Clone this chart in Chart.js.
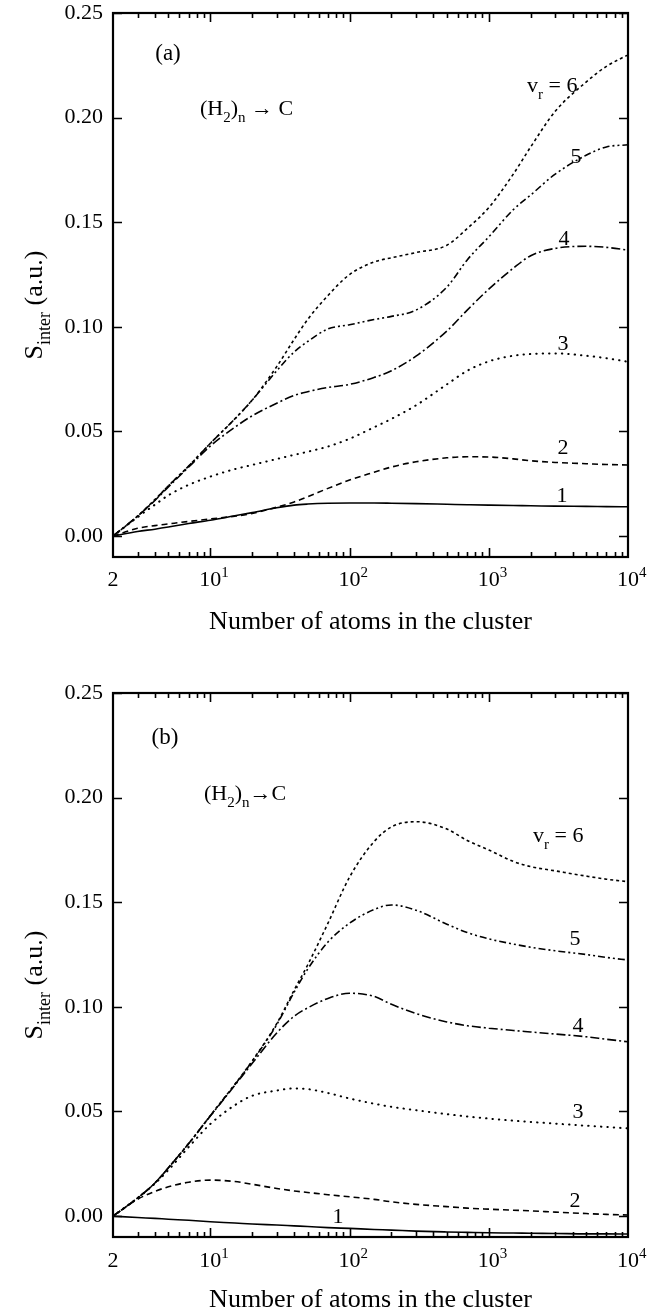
<!DOCTYPE html>
<html>
<head>
<meta charset="utf-8">
<title>S_inter vs cluster size</title>
<script src="https://cdn.jsdelivr.net/npm/chart.js@4.4.1/dist/chart.umd.min.js"></script>
<style>
  html, body { margin: 0; padding: 0; background: #fff; }
  #wrap { position: relative; width: 662px; height: 1313px; overflow: hidden; }
  canvas { position: absolute; left: 0; }
</style>
</head>
<body>
<div id="wrap">
  <canvas id="panelA" width="662" height="650" style="top:0px"></canvas>
  <canvas id="panelB" width="662" height="663" style="top:650px"></canvas>
</div>
<script>
// Number of atoms in the cluster (x values shared by every curve)
const clusterSize = [2, 3, 4, 5, 7, 10, 15, 20, 30, 40, 50, 70, 100, 150, 200, 300, 500, 700, 1000, 1500, 2000, 3000, 5000, 7000, 10000];
const vibLevels = ['1', '2', '3', '4', '5', '6'];
const yTickValues = [0, 0.05, 0.10, 0.15, 0.20, 0.25];
const xLabelValues = [2, 10, 100, 1000, 10000];
const xLabelExponents = ['', '1', '2', '3', '4'];

// Panel (a): S_inter for v_r = 1..6
const aVr1 = [0, 0.0022, 0.0033, 0.0043, 0.0060, 0.0076, 0.0097, 0.0112, 0.0135, 0.0148, 0.0153, 0.0157, 0.0158, 0.0158, 0.0157, 0.0155, 0.0152, 0.0150, 0.0148, 0.0146, 0.0145, 0.0143, 0.0142, 0.0141, 0.0140];
const aVr2 = [0, 0.0037, 0.0050, 0.0058, 0.0070, 0.0082, 0.0095, 0.0108, 0.0138, 0.0163, 0.0188, 0.0228, 0.0268, 0.0305, 0.0330, 0.0355, 0.0374, 0.0379, 0.0378, 0.0369, 0.0360, 0.0352, 0.0346, 0.0342, 0.0340];
const aVr3 = [0, 0.0090, 0.0150, 0.0195, 0.0245, 0.0284, 0.0320, 0.0340, 0.0368, 0.0388, 0.0403, 0.0428, 0.0465, 0.0520, 0.0560, 0.0625, 0.0725, 0.0790, 0.0835, 0.0862, 0.0870, 0.0873, 0.0862, 0.0850, 0.0833];
const aVr4 = [0, 0.0095, 0.0170, 0.0235, 0.0330, 0.0430, 0.0520, 0.0575, 0.0635, 0.0672, 0.0690, 0.0710, 0.0725, 0.0758, 0.0790, 0.0860, 0.0980, 0.1080, 0.1180, 0.1280, 0.1340, 0.1375, 0.1385, 0.1380, 0.1367];
const aVr5 = [0, 0.0095, 0.0172, 0.0240, 0.0335, 0.0443, 0.0560, 0.0650, 0.0790, 0.0880, 0.0930, 0.0990, 0.1010, 0.1035, 0.1050, 0.1080, 0.1190, 0.1320, 0.1430, 0.1560, 0.1630, 0.1730, 0.1820, 0.1860, 0.1870];
const aVr6 = [0, 0.0095, 0.0175, 0.0240, 0.0335, 0.0443, 0.0560, 0.0650, 0.0810, 0.0940, 0.1035, 0.1150, 0.1250, 0.1310, 0.1330, 0.1355, 0.1390, 0.1470, 0.1570, 0.1730, 0.1860, 0.2030, 0.2170, 0.2245, 0.2300];

// Panel (b): S_inter for v_r = 1..6
const bVr1 = [0, -0.0007, -0.0011, -0.0015, -0.0020, -0.0027, -0.0033, -0.0038, -0.0043, -0.0047, -0.0050, -0.0055, -0.0059, -0.0064, -0.0067, -0.0072, -0.0076, -0.0078, -0.0080, -0.0081, -0.0082, -0.0083, -0.0085, -0.0085, -0.0086];
const bVr2 = [0, 0.0080, 0.0118, 0.0140, 0.0162, 0.0172, 0.0165, 0.0152, 0.0132, 0.0120, 0.0113, 0.0102, 0.0092, 0.0080, 0.0068, 0.0056, 0.0045, 0.0038, 0.0033, 0.0028, 0.0025, 0.0019, 0.0012, 0.0008, 0.0005];
const bVr3 = [0, 0.0086, 0.0155, 0.0220, 0.0330, 0.0440, 0.0530, 0.0575, 0.0600, 0.0610, 0.0607, 0.0588, 0.0562, 0.0537, 0.0522, 0.0506, 0.0487, 0.0476, 0.0466, 0.0456, 0.0450, 0.0442, 0.0432, 0.0426, 0.0419];
const bVr4 = [0, 0.0086, 0.0158, 0.0231, 0.0347, 0.0478, 0.0625, 0.0730, 0.0875, 0.0955, 0.0995, 0.1040, 0.1065, 0.1050, 0.1012, 0.0968, 0.0928, 0.0910, 0.0898, 0.0887, 0.0880, 0.0870, 0.0857, 0.0845, 0.0833];
const bVr5 = [0, 0.0086, 0.0158, 0.0231, 0.0347, 0.0480, 0.0628, 0.0740, 0.0915, 0.1070, 0.1180, 0.1310, 0.1400, 0.1465, 0.1487, 0.1462, 0.1395, 0.1355, 0.1325, 0.1300, 0.1285, 0.1268, 0.1250, 0.1236, 0.1224];
const bVr6 = [0, 0.0086, 0.0158, 0.0231, 0.0347, 0.0480, 0.0630, 0.0742, 0.0920, 0.1080, 0.1200, 0.1400, 0.1620, 0.1790, 0.1860, 0.1885, 0.1850, 0.1795, 0.1750, 0.1695, 0.1670, 0.1650, 0.1625, 0.1610, 0.1598];

const SERIF = '"Liberation Serif", "DejaVu Serif", serif';
// solid, dashed, dotted, dash-dot, dash-dot-dot, short dash
const dashPatterns = [[], [6, 4], [0.4, 6], [9, 3, 2, 3], [7, 3, 2, 3, 2, 3], [3, 3]];
const lineWidths = [1.6, 1.6, 2.0, 1.6, 1.6, 1.6];

function buildDatasets(series) {
  return series.map((vals, i) => ({
    label: 'v_r = ' + vibLevels[i],
    data: clusterSize.map((n, k) => ({ x: n, y: vals[k] })),
    borderColor: '#000',
    borderWidth: lineWidths[i],
    borderDash: dashPatterns[i],
    borderCapStyle: i === 2 ? 'round' : 'butt',
    pointRadius: 0,
    pointHoverRadius: 0,
    fill: false,
    cubicInterpolationMode: 'monotone'
  }));
}

// Draws text made of normal / subscript / superscript pieces
function drawRich(ctx, parts, x, y, size, align) {
  const fontOf = k => (k === 0 ? size : Math.round(size * 0.68)) + 'px ' + SERIF;
  const widths = parts.map(([t, k]) => { ctx.font = fontOf(k); return ctx.measureText(t).width; });
  const total = widths.reduce((a, b) => a + b, 0);
  let cx = align === 'center' ? x - total / 2 : x;
  ctx.textAlign = 'left';
  ctx.textBaseline = 'alphabetic';
  parts.forEach(([t, k], i) => {
    ctx.font = fontOf(k);
    const dy = k < 0 ? size * 0.3 : (k > 0 ? -size * 0.4 : 0);
    ctx.fillText(t, cx, y + dy);
    cx += widths[i];
  });
}

// Frame with inward ticks on all four sides, x labels, axis titles and curve notes
const framePlugin = {
  id: 'frame',
  afterDraw(chart, args, opts) {
    const { ctx, chartArea: ca } = chart;
    const xs = chart.scales.x, ys = chart.scales.y;
    ctx.save();
    ctx.strokeStyle = '#000';
    ctx.fillStyle = '#000';
    ctx.lineWidth = 2.2;
    ctx.strokeRect(ca.left, ca.top, ca.right - ca.left, ca.bottom - ca.top);

    ctx.lineWidth = 1.6;
    ctx.beginPath();
    for (let d = 0; d < 4; d++) {
      for (let m = 1; m <= 9; m++) {
        const v = m * Math.pow(10, d);
        if (v <= 2 || v >= 10000) continue;
        const px = Math.round(xs.getPixelForValue(v)) + 0.5;
        const len = m === 1 ? 9 : 5;
        ctx.moveTo(px, ca.bottom); ctx.lineTo(px, ca.bottom - len);
        ctx.moveTo(px, ca.top); ctx.lineTo(px, ca.top + len);
      }
    }
    yTickValues.forEach(v => {
      const py = Math.round(ys.getPixelForValue(v)) + 0.5;
      ctx.moveTo(ca.left, py); ctx.lineTo(ca.left + 9, py);
      ctx.moveTo(ca.right, py); ctx.lineTo(ca.right - 9, py);
    });
    ctx.stroke();

    // x tick labels: 2, 10^1 ... 10^4
    xLabelValues.forEach((v, i) => {
      const px = xs.getPixelForValue(v);
      ctx.font = '22px ' + SERIF;
      ctx.textAlign = 'center';
      ctx.textBaseline = 'alphabetic';
      const main = xLabelExponents[i] ? '10' : String(v);
      ctx.fillText(main, px, opts.xLabelBase);
      if (xLabelExponents[i]) {
        const w = ctx.measureText(main).width;
        ctx.font = '15px ' + SERIF;
        ctx.textAlign = 'left';
        ctx.fillText(xLabelExponents[i], px + w / 2, opts.xLabelBase - 9);
      }
    });

    // x axis title
    ctx.font = '26px ' + SERIF;
    ctx.textAlign = 'center';
    ctx.fillText('Number of atoms in the cluster', (ca.left + ca.right) / 2, opts.xTitleBase);

    // y axis title, rotated
    ctx.save();
    ctx.translate(opts.yTitleBase, (ca.top + ca.bottom) / 2 + 20);
    ctx.rotate(-Math.PI / 2);
    drawRich(ctx, [['S', 0], ['inter', -1], [' (a.u.)', 0]], 0, 0, 26, 'center');
    ctx.restore();

    // panel notes
    opts.notes.forEach(n => drawRich(ctx, n.parts, n.x, n.y, n.size, n.align));
    ctx.restore();
  }
};

function makePanel(id, series, layout) {
  const canvas = document.getElementById(id);
  return new Chart(canvas, {
    type: 'line',
    data: { datasets: buildDatasets(series) },
    plugins: [framePlugin],
    options: {
      responsive: false,
      maintainAspectRatio: false,
      devicePixelRatio: 1,
      animation: false,
      layout: { padding: { top: layout.top, right: 34, left: 0, bottom: 0 } },
      plugins: {
        legend: { display: false },
        tooltip: { enabled: false },
        frame: layout
      },
      scales: {
        x: {
          type: 'logarithmic',
          min: 2,
          max: 10000,
          ticks: { display: false },
          grid: { display: false, drawTicks: false },
          border: { display: false },
          afterFit(s) { s.height = layout.xAxisHeight; }
        },
        y: {
          type: 'linear',
          min: -0.01,
          max: 0.25,
          ticks: {
            stepSize: 0.05,
            includeBounds: false,
            padding: 10,
            color: '#000',
            font: { family: SERIF, size: 22 },
            callback: v => Number(v).toFixed(2)
          },
          grid: { display: false, drawTicks: false },
          border: { display: false },
          afterFit(s) { s.width = 113; s.paddingTop = 0; s.paddingBottom = 0; }
        }
      }
    }
  });
}

const h2Note = (x, y, arrow) => ({
  parts: [['(H', 0], ['2', -1], [')', 0], ['n', -1], [arrow, 0], ['C', 0]],
  x: x, y: y, size: 22, align: 'left'
});
const vrNote = (x, y) => ({ parts: [['v', 0], ['r', -1], [' = 6', 0]], x: x, y: y, size: 22, align: 'left' });
const numNote = (t, x, y) => ({ parts: [[t, 0]], x: x, y: y, size: 22, align: 'center' });

makePanel('panelA', [aVr1, aVr2, aVr3, aVr4, aVr5, aVr6], {
  top: 13,
  xAxisHeight: 93,
  xLabelBase: 586,
  xTitleBase: 629,
  yTitleBase: 42,
  notes: [
    { parts: [['(a)', 0]], x: 168, y: 60, size: 23, align: 'center' },
    h2Note(200, 115, ' \u2192 '),
    vrNote(527, 92),
    numNote('5', 576, 163),
    numNote('4', 564, 245),
    numNote('3', 563, 350),
    numNote('2', 563, 454),
    numNote('1', 562, 502)
  ]
});

makePanel('panelB', [bVr1, bVr2, bVr3, bVr4, bVr5, bVr6], {
  top: 43,
  xAxisHeight: 76,
  xLabelBase: 617,
  xTitleBase: 657,
  yTitleBase: 42,
  notes: [
    { parts: [['(b)', 0]], x: 165, y: 94, size: 23, align: 'center' },
    h2Note(204, 150, '\u2192'),
    vrNote(533, 192),
    numNote('5', 575, 295),
    numNote('4', 578, 382),
    numNote('3', 578, 468),
    numNote('2', 575, 557),
    numNote('1', 338, 573)
  ]
});
</script>
</body>
</html>
